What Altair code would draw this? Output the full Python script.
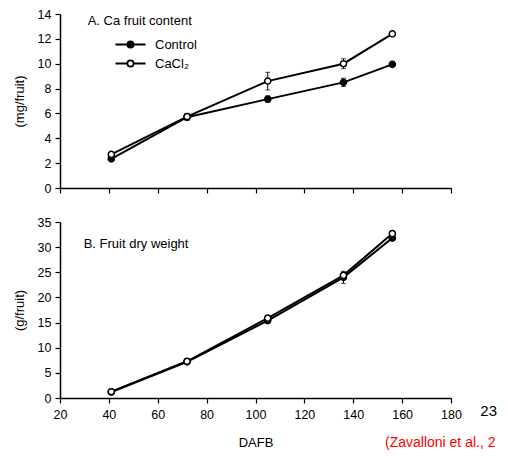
import altair as alt
import pandas as pd

FONT = "Liberation Sans, Arial, sans-serif"

# ---- data ----
dafb = [41, 72, 105, 136, 156]
series_names = ["Control", "CaCl₂"]

ca_control = [2.35, 5.7, 7.15, 8.5, 9.95]
ca_control_err = [0.1, 0.27, 0.26, 0.33, 0.1]
ca_cacl2 = [2.7, 5.75, 8.6, 10.0, 12.4]
ca_cacl2_err = [0.1, 0.25, 0.71, 0.4, 0.1]

dw_control = [1.2, 7.2, 15.4, 24.0, 31.8]
dw_control_err = [0.2, 0.3, 0.5, 1.2, 0.4]
dw_cacl2 = [1.25, 7.3, 15.9, 24.4, 32.7]
dw_cacl2_err = [0.2, 0.3, 0.4, 0.6, 0.4]

x_ticks = [20, 40, 60, 80, 100, 120, 140, 160, 180]
ca_ticks = [0, 2, 4, 6, 8, 10, 12, 14]
dw_ticks = [0, 5, 10, 15, 20, 25, 30, 35]

panel_a_title = ["A. Ca fruit content"]
panel_b_title = ["B. Fruit dry weight"]
citation = ["(Zavalloni et al., 2"]
slide_number = ["23"]


def frame(ctrl, ctrl_err, trt, trt_err):
    rows = []
    for i, d in enumerate(dafb):
        rows.append({"dafb": d, "series": series_names[0], "value": ctrl[i], "err": ctrl_err[i]})
        rows.append({"dafb": d, "series": series_names[1], "value": trt[i], "err": trt_err[i]})
    return pd.DataFrame(rows)


LEGEND_PATH = ("M-3,0L-0.62,0M0.62,0L3,0"
               "M0.62,0A0.62,0.62,0,1,1,-0.62,0A0.62,0.62,0,1,1,0.62,0Z")


def panel(df, y_title, y_domain, y_ticks, bottom, legend):
    base = alt.Chart(df).transform_calculate(
        lo="datum.value - datum.err", hi="datum.value + datum.err"
    )
    x_axis = alt.Axis(values=x_ticks, labels=bottom, title="DAFB" if bottom else None,
                      labelFlush=False, titlePadding=15, labelPadding=5.5)
    y_axis = alt.Axis(values=y_ticks, title=y_title, titlePadding=11)
    xs = alt.Scale(domain=[20, 180], nice=False, zero=False)
    ys = alt.Scale(domain=y_domain, nice=False)

    line = base.mark_line(color="black", strokeWidth=2).encode(
        x=alt.X("dafb:Q", scale=xs, axis=x_axis),
        y=alt.Y("value:Q", scale=ys, axis=y_axis),
        detail="series:N",
    )
    rule = base.mark_rule(color="black", strokeWidth=1).encode(
        x=alt.X("dafb:Q", scale=xs, axis=x_axis),
        y=alt.Y("lo:Q", scale=ys, axis=y_axis),
        y2="hi:Q",
    )
    cap_lo = base.mark_tick(color="black", orient="horizontal", size=5, thickness=1).encode(
        x=alt.X("dafb:Q", scale=xs, axis=x_axis),
        y=alt.Y("lo:Q", scale=ys, axis=y_axis),
    )
    cap_hi = base.mark_tick(color="black", orient="horizontal", size=5, thickness=1).encode(
        x=alt.X("dafb:Q", scale=xs, axis=x_axis),
        y=alt.Y("hi:Q", scale=ys, axis=y_axis),
    )
    pts = base.mark_point(shape="circle", filled=True, size=38, stroke="black",
                          strokeWidth=1.5, opacity=1, fillOpacity=1).encode(
        x=alt.X("dafb:Q", scale=xs, axis=x_axis),
        y=alt.Y("value:Q", scale=ys, axis=y_axis),
        fill=alt.Fill("series:N", scale=alt.Scale(domain=series_names, range=["black", "white"]),
                      legend=legend),
    )
    return [line, rule, cap_lo, cap_hi, pts]


def text_layer(values, x, y, size=13, color="black", align="left"):
    return alt.Chart(pd.DataFrame({"t": values})).mark_text(
        align=align, baseline="middle", font=FONT, fontSize=size, color=color
    ).encode(x=alt.value(x), y=alt.value(y), text="t:N")


legend_a = alt.Legend(
    title=None, orient="none", legendX=64, legendY=24, symbolType=LEGEND_PATH,
    symbolSize=100, symbolStrokeColor="black", symbolStrokeWidth=1.8,
    labelFont=FONT, labelFontSize=13, labelColor="black", labelOffset=18,
    rowPadding=4, padding=0,
)

df_a = frame(ca_control, ca_control_err, ca_cacl2, ca_cacl2_err)
df_b = frame(dw_control, dw_control_err, dw_cacl2, dw_cacl2_err)

top = alt.layer(
    *panel(df_a, "(mg/fruit)", [0, 14], ca_ticks, False, legend_a),
    text_layer(panel_a_title, 27.7, 6.5),
).properties(width=391, height=174)

bottom = alt.layer(
    *panel(df_b, "(g/fruit)", [0, 35], dw_ticks, True, None),
    text_layer(panel_b_title, 23.7, 21.6),
    text_layer(citation, 325, 220.5, size=14, color="#ff0000"),
    text_layer(slide_number, 437, 189, size=15, align="right"),
).properties(width=391, height=176)

chart = alt.vconcat(top, bottom, spacing=21).resolve_scale(
    fill="independent"
).resolve_legend(fill="independent").properties(
    padding={"left": 5, "top": 0, "right": 0, "bottom": 0},
    background="white",
).configure_view(stroke=None).configure_axis(
    domainColor="black", domainWidth=1.5, tickColor="black", tickWidth=1.2, tickSize=5,
    labelColor="black", labelFont=FONT, labelFontSize=12.5, labelPadding=4,
    titleFont=FONT, titleFontSize=13, titleFontWeight="normal", titleColor="black",
    grid=False,
)

chart.save("out.html", embed_options={"renderer": "svg", "actions": False})
